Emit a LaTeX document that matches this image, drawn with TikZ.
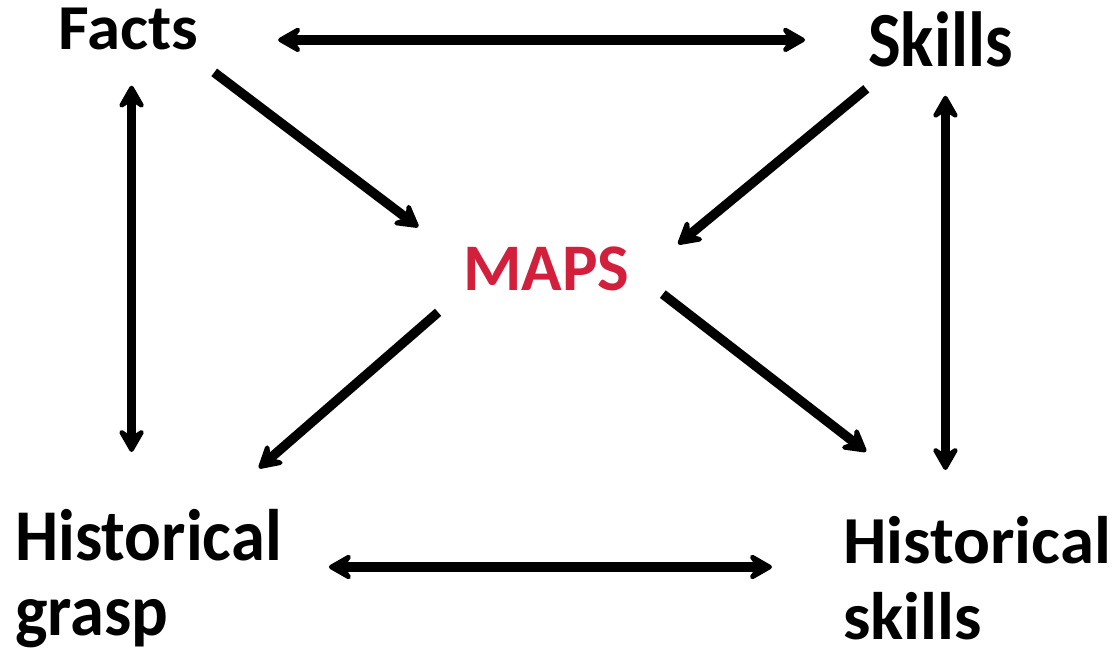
\documentclass[tikz,border=0pt]{standalone}
\usepackage{fontspec}
\setmainfont{Carlito}
\usetikzlibrary{arrows.meta,calc}
\definecolor{mapsred}{RGB}{210,32,60}
\tikzset{
  lbl/.style={inner sep=0pt, anchor=base west, font=\bfseries\fontsize{64}{64}\selectfont},
  tip/.tip={Stealth[length=29pt,width=33pt,inset=11pt,round]},
  arr/.style={line width=9.5pt, tip-tip},
  sarr/.style={line width=9.5pt, -tip}
}
\begin{document}
\begin{tikzpicture}[x=1pt,y=-1pt]
\useasboundingbox (0,0) rectangle (1114,658);
\node[lbl] (facts) at (58,50) {\scalebox{1.045}[1.0]{Facts}};
\node[lbl] (skills) at (868,67) {\scalebox{1.08}[1.22]{Skills}};
\node[lbl, text=mapsred] (maps) at (463,290) {\scalebox{1.045}[1.04]{MAPS}};
\node[lbl] (hgrasp) at (15,560) {\scalebox{1.07}[1.14]{\vtop{\baselineskip=66pt\hbox{Historical}\hbox{grasp}}}};
\node[lbl] (hskills) at (843,563) {\scalebox{1.075}[1.05]{\vtop{\baselineskip=73pt\hbox{Historical}\hbox{skills}}}};
% horizontal
\draw[arr, shorten <=80pt, shorten >=63pt] (facts.east |- skills.west) -- (skills.west);
\coordinate (gb) at ($(hgrasp.base east)+(0,7)$);
\draw[arr, shorten <=47pt, shorten >=71pt] (gb) -- (gb -| hskills.base west);
% vertical
\coordinate (fv) at ($(facts.south west)!0.525!(facts.south east)$);
\draw[arr, shorten <=35pt, shorten >=108pt] (fv) -- (fv |- hgrasp.base);
\coordinate (sv) at ($(skills.south west)!0.535!(skills.south east)$);
\draw[arr, shorten <=28pt, shorten >=93pt] (sv) -- (sv |- hskills.base);
% diagonals
\draw[sarr, shorten <=36pt, shorten >=56pt] ($(facts.south west)!0.91!(facts.south east)$) -- ($(maps.north west)!0.33!(maps.south west)$);
\draw[sarr, shorten <=33pt, shorten >=63pt] ($(skills.south west)!0.164!(skills.south east)$) -- ($(maps.north east)!0.857!(maps.south east)$);
\draw[sarr, shorten <=33pt, shorten >=140pt] (maps.south west) -- ($(hgrasp.base west)!0.518!(hgrasp.base east)$);
\draw[sarr, shorten <=42pt, shorten >=182pt] (maps.east) -- ($(hskills.base west)!0.623!(hskills.base east)$);
\end{tikzpicture}
\end{document}
